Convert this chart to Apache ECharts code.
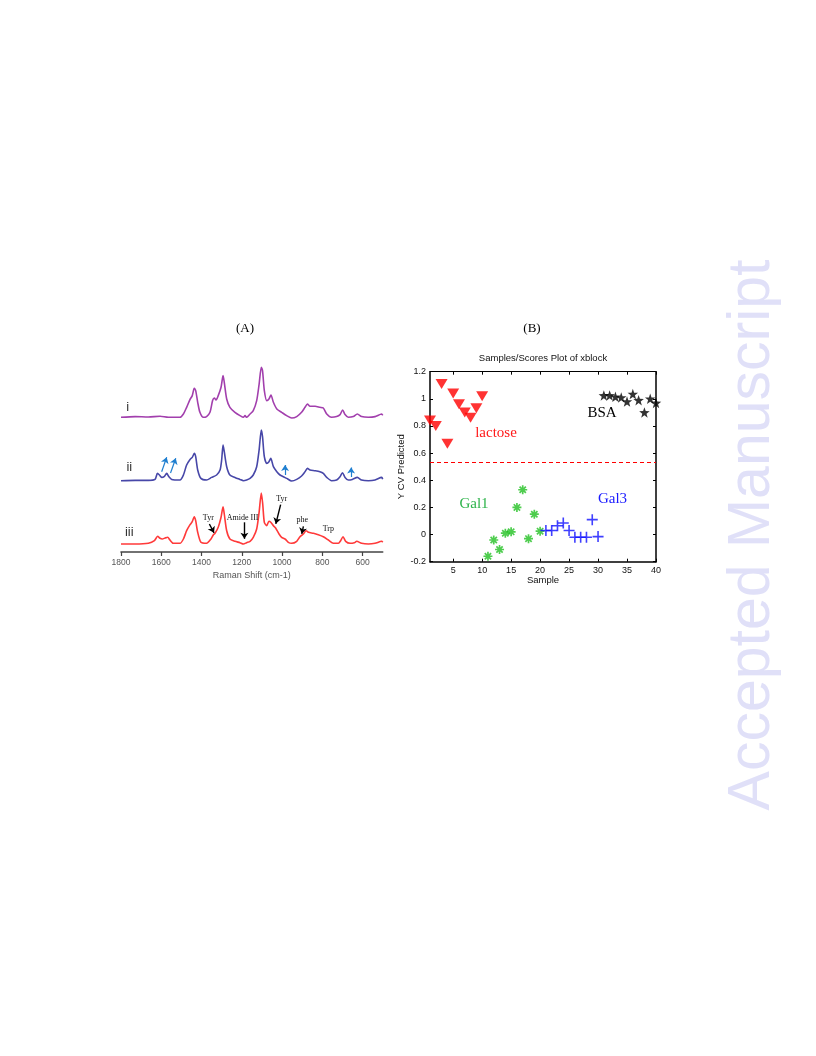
<!DOCTYPE html>
<html>
<head>
<meta charset="utf-8">
<script src="https://cdn.jsdelivr.net/npm/echarts@6/dist/echarts.min.js"></script>
<style>html,body{margin:0;padding:0;background:#fff}#c{width:816px;height:1056px}</style>
</head>
<body>
<div id="c"></div>
<script>
// ---------- Panel A: Raman spectra (wavenumber cm-1, relative intensity) ----------
const ramanTicks = [1800, 1600, 1400, 1200, 1000, 800, 600];
const specIWn  = [1800,1730,1664,1606,1565,1507,1490,1474,1457,1446,1436,1429,1419,1408,1391,1375,1358,1345,1336,1328,1317,1303,1293,1287,1275,1259,1234,1209,1192,1184,1176,1159,1143,1126,1114,1103,1097,1088,1076,1065,1055,1043,1026,1002,977,952,927,903,886,874,861,836,812,795,778,754,729,712,699,687,671,646,626,605,571,538,505,500];
const specIInt = [0,0.7,0.3,1,0,0,3.3,10,18,21.7,29,26.7,15,5,0,0.7,5,16.7,19.3,17.3,21.7,30,41.7,35,18.3,10,5,1.7,0,1.7,0,3.3,6.7,16.7,33,50,46.7,26.7,16.7,18.3,22.3,15,8.3,5,1.7,-0.7,0.7,5,10,13.3,11,11,10,9.3,3.3,0,0.7,2.7,7.3,2.7,0,0.7,3.3,0.7,0,0.7,3.3,2];
const specIIWn  = [1800,1730,1664,1631,1619,1609,1598,1586,1573,1562,1548,1507,1490,1474,1457,1446,1436,1429,1419,1403,1375,1350,1325,1308,1300,1293,1287,1275,1259,1234,1209,1192,1176,1159,1143,1126,1114,1103,1097,1088,1076,1065,1056,1043,1026,1010,994,977,952,927,903,886,874,861,836,812,795,778,754,729,712,700,687,671,651,626,605,571,538,505,500];
const specIIInt = [0,0.3,0.3,1.3,7.3,5.7,3.3,4,7.3,4,1.3,0.7,5.7,15.7,21.3,23.3,27.3,24,10.7,2.3,0.7,3.3,5.7,10.7,20.7,35.7,29,14,5.7,3.3,1.3,0,0.7,2.3,5.7,14,30.7,50.7,44,24,17.3,19,22.3,14,9,5.7,4,2.3,-0.3,1.3,4.7,9,12.3,10.7,10,9,7.3,3.3,0,0.7,4,8,3.3,0.7,1.3,3.3,0.7,0,0.7,3.3,1.5];
const specIIIWn  = [1800,1730,1664,1634,1618,1606,1595,1581,1568,1557,1540,1507,1490,1474,1457,1446,1436,1429,1419,1403,1375,1353,1341,1333,1317,1303,1293,1287,1275,1259,1234,1209,1192,1176,1159,1143,1126,1114,1103,1096,1088,1076,1065,1056,1043,1032,1015,1002,985,969,952,927,911,894,881,869,844,820,795,770,745,720,709,697,684,662,641,629,605,571,538,505,500];
const specIIIInt = [0,0,0.7,3.3,7.7,5.7,5,6,6.7,4,0.7,0.7,5,13.3,19.3,22.3,27.3,23.3,11.7,1.7,0.7,5,9.3,10.7,16.7,26.7,37.3,30,13.3,5,2.7,1.3,0,1.3,2.7,6.7,15,31.7,51,40,21.7,18.3,22.7,21.7,18.3,16,10,6.7,5,1.7,0.7,2.7,7.3,10,13.3,11.7,10.7,9.3,7.3,4,0.7,0.7,3.3,7.3,2.7,0.7,1.3,2.7,0.7,0,0.7,2.7,1.7];

// ---------- Panel B: PLS-DA cross-validated prediction ----------
const sampleTicks = [5, 10, 15, 20, 25, 30, 35, 40];
const lactoseX = [1,2,3,4,5,6,7,8,9,10];
const lactoseY = [0.84,0.80,1.11,0.67,1.04,0.96,0.90,0.86,0.93,1.02];
const gal1X = [11,12,13,14,15,16,17,18,19,20];
const gal1Y = [-0.16,-0.04,-0.11,0.01,0.02,0.20,0.33,-0.03,0.15,0.025];
const gal3X = [21,22,23,24,25,26,27,28,29,30];
const gal3Y = [0.03,0.03,0.065,0.085,0.03,-0.02,-0.02,-0.02,0.11,-0.015];
const bsaX = [31,32,33,34,35,36,37,38,39,40];
const bsaY = [1.025,1.025,1.015,1.01,0.98,1.035,0.99,0.90,1.0,0.97];
const threshold = 0.53;

const zip = (a, b) => a.map((v, i) => [v, b[i]]);

const chart = echarts.init(document.getElementById('c'), null, {renderer: 'canvas'});

const specColors = ['#a23fad', '#4747a8', '#ff3a3a'];
const specGrids = [
  {left: 121, width: 261.7, top: 357.3, height: 65},
  {left: 121, width: 261.7, top: 420.7, height: 65},
  {left: 121, width: 261.7, top: 484, height: 68}
];
const specYMin = [-5, -5, -8];

const xAxes = [], yAxes = [];
specGrids.forEach((g, i) => {
  const isBottom = i === 2;
  xAxes.push({
    gridIndex: i, type: 'value', min: 500, max: 1800, inverse: true,
    show: isBottom,
    axisLine: {show: isBottom, onZero: false, lineStyle: {color: '#444', width: 1.6}},
    axisTick: {show: isBottom, inside: false, length: 4, lineStyle: {color: '#444', width: 1.2},
               customValues: ramanTicks},
    axisLabel: {show: isBottom, color: '#555', fontSize: 8.5, fontFamily: 'Liberation Sans, Arial', margin: 6,
                customValues: ramanTicks, formatter: v => String(v)},
    splitLine: {show: false},
    name: isBottom ? 'Raman Shift (cm-1)' : '',
    nameLocation: 'middle', nameGap: 19,
    nameTextStyle: {color: '#555', fontSize: 9, fontFamily: 'Liberation Sans, Arial'}
  });
  yAxes.push({gridIndex: i, type: 'value', min: specYMin[i], max: 60, show: false, splitLine: {show: false}});
});

// Panel B axes (grid 3)
const gB = {left: 430, right: 160, top: 371.7, bottom: 494.3};
xAxes.push({
  gridIndex: 3, type: 'value', min: 1, max: 40,
  axisLine: {onZero: false, lineStyle: {color: '#000', width: 1.5}},
  axisTick: {inside: true, length: 3, customValues: sampleTicks, lineStyle: {color: '#000', width: 1}},
  axisLabel: {customValues: sampleTicks, color: '#111', fontSize: 9, fontFamily: 'Liberation Sans, Arial', margin: 4},
  splitLine: {show: false},
  name: 'Sample', nameLocation: 'middle', nameGap: 13,
  nameTextStyle: {color: '#111', fontSize: 9.5, fontFamily: 'Liberation Sans, Arial'}
});
xAxes.push({
  gridIndex: 3, type: 'value', min: 1, max: 40, position: 'top',
  axisLine: {onZero: false, lineStyle: {color: '#000', width: 1.2}},
  axisTick: {inside: true, length: 3, customValues: sampleTicks, lineStyle: {color: '#000', width: 1}},
  axisLabel: {show: false}, splitLine: {show: false}
});
yAxes.push({
  gridIndex: 3, type: 'value', min: -0.2, max: 1.2, interval: 0.2,
  axisLine: {onZero: false, lineStyle: {color: '#000', width: 1.5}},
  axisTick: {inside: true, length: 3, lineStyle: {color: '#000', width: 1}},
  axisLabel: {color: '#111', fontSize: 9, fontFamily: 'Liberation Sans, Arial', margin: 4,
              formatter: v => String(Math.round(v * 10) / 10)},
  splitLine: {show: false},
  name: 'Y CV Predicted', nameLocation: 'middle', nameGap: 21, nameRotate: 90,
  nameTextStyle: {color: '#111', fontSize: 9.5, fontFamily: 'Liberation Sans, Arial'}
});
yAxes.push({
  gridIndex: 3, type: 'value', min: -0.2, max: 1.2, interval: 0.2, position: 'right',
  axisLine: {onZero: false, lineStyle: {color: '#000', width: 1.5}},
  axisTick: {inside: true, length: 3, lineStyle: {color: '#000', width: 1}},
  axisLabel: {show: false}, splitLine: {show: false}
});

const arrowBlue = '#1f7fd0';
const blueArrows = [
  [[1598, 9], [1573, 23.4]],
  [[1554, 7.7], [1528, 22.4]],
  [[985, 5.7], [985, 15.7]],
  [[657, 3.7], [657, 13.2]]
];
const blackArrows = [
  [[1361, 20], [1338, 11.2]],
  [[1187, 21.7], [1187, 5.2]],
  [[1007, 39.3], [1031, 20.2]],
  [[894, 17.7], [902, 10.2]]
];
const peakLabels = [
  {name: 'Tyr', coord: [1366, 26]},
  {name: 'Amide III', coord: [1196, 26]},
  {name: 'Tyr', coord: [1002, 45]},
  {name: 'phe', coord: [899, 24]},
  {name: 'Trp', coord: [770, 15]}
];

const mkArrows = (list, color, w) => ({
  silent: true, symbol: ['none', 'arrow'], symbolSize: [6, 6], animation: false,
  label: {show: false},
  lineStyle: {color: color, width: w, type: 'solid'},
  data: list.map(p => [{coord: p[0]}, {coord: p[1]}])
});

const starPath = 'path://M0,-10L2.35,-3.24L9.51,-3.09L3.8,1.24L5.88,8.09L0,4L-5.88,8.09L-3.8,1.24L-9.51,-3.09L-2.35,-3.24Z';
const plusPath = 'path://M-5,0L5,0M0,-5L0,5';
const astPath = 'path://M0,-5L0,5M-5,0L5,0M-3.5,-3.5L3.5,3.5M-3.5,3.5L3.5,-3.5';

const series = [
  {type: 'line', xAxisIndex: 0, yAxisIndex: 0, data: zip(specIWn, specIInt), showSymbol: false, smooth: 0.25,
   lineStyle: {color: specColors[0], width: 1.6}, animation: false},
  {type: 'line', xAxisIndex: 1, yAxisIndex: 1, data: zip(specIIWn, specIIInt), showSymbol: false, smooth: 0.25,
   lineStyle: {color: specColors[1], width: 1.6}, animation: false,
   markLine: mkArrows(blueArrows, arrowBlue, 1.2)},
  {type: 'line', xAxisIndex: 2, yAxisIndex: 2, data: zip(specIIIWn, specIIIInt), showSymbol: false, smooth: 0.25,
   lineStyle: {color: specColors[2], width: 1.6}, animation: false,
   markLine: mkArrows(blackArrows, '#000', 1.4),
   markPoint: {symbol: 'circle', symbolSize: 0.01, silent: true, animation: false,
     label: {show: true, position: 'inside', formatter: '{b}', color: '#111', fontSize: 8,
             fontFamily: 'Liberation Serif, Times New Roman'},
     data: peakLabels}},
  {type: 'scatter', xAxisIndex: 3, yAxisIndex: 4, data: zip(lactoseX, lactoseY),
   symbol: 'triangle', symbolRotate: 180, symbolSize: [12, 10], itemStyle: {color: '#ff0000'}, animation: false,
   markLine: {silent: true, symbol: 'none', animation: false, label: {show: false},
     lineStyle: {color: '#ff0000', type: [4, 3], width: 1.2}, data: [{yAxis: threshold}]}},
  {type: 'scatter', xAxisIndex: 3, yAxisIndex: 4, data: zip(gal1X, gal1Y),
   symbol: astPath, symbolSize: 9, itemStyle: {color: 'rgba(0,0,0,0)', borderColor: '#22c022', borderWidth: 1.7}, animation: false},
  {type: 'scatter', xAxisIndex: 3, yAxisIndex: 4, data: zip(gal3X, gal3Y),
   symbol: plusPath, symbolSize: 11, itemStyle: {color: 'rgba(0,0,0,0)', borderColor: '#1010ff', borderWidth: 1.6}, animation: false},
  {type: 'scatter', xAxisIndex: 3, yAxisIndex: 4, data: zip(bsaX, bsaY),
   symbol: starPath, symbolSize: 10.5, itemStyle: {color: '#000'}, animation: false}
];

const serif = 'Liberation Serif, Times New Roman, serif';
const sans = 'Liberation Sans, Arial, sans-serif';
const txt = (text, x, y, size, color, family, align) => ({
  type: 'text', silent: true,
  style: {text: text, x: x, y: y, font: size + 'px ' + family, fill: color,
          textAlign: align || 'center', textVerticalAlign: 'middle'}
});

chart.setOption({
  animation: false,
  backgroundColor: '#fff',
  grid: specGrids.concat([gB]),
  xAxis: xAxes,
  yAxis: yAxes,
  series: series,
  graphic: [
    txt('(A)', 245, 329, 13, '#000', serif),
    txt('(B)', 532, 329, 13, '#000', serif),
    txt('Samples/Scores Plot of xblock', 543, 358, 9.5, '#111', sans),
    txt('i', 127.7, 407.5, 13, '#333', sans),
    txt('ii', 129.3, 467.7, 13, '#333', sans),
    txt('iii', 129.3, 532.7, 13, '#333', sans),
    txt('lactose', 496, 433.5, 15, '#ff1a1a', serif),
    txt('BSA', 602, 412.7, 15, '#000', serif),
    txt('Gal1', 474, 504, 15, '#2db34a', serif),
    txt('Gal3', 612.5, 499.3, 15, '#1a1aff', serif),
    {type: 'text', silent: true, x: 753, y: 535, rotation: Math.PI / 2,
     style: {text: 'Accepted Manuscript', font: '59px ' + sans, fill: '#e0e0f8',
             textAlign: 'center', textVerticalAlign: 'middle'}}
  ]
});
</script>
</body>
</html>
